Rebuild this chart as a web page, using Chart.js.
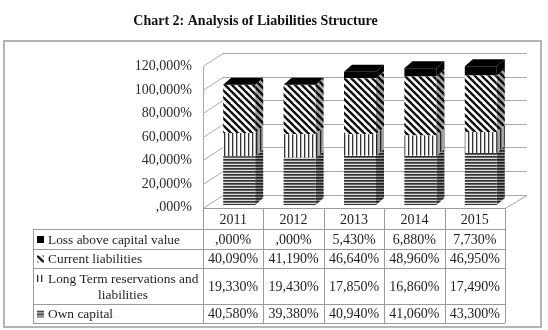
<!DOCTYPE html>
<html>
<head>
<meta charset="utf-8">
<script src="https://cdn.jsdelivr.net/npm/chart.js@4.4.1/dist/chart.umd.min.js"></script>
<style>
  html, body { margin: 0; padding: 0; background: #fff; }
  #wrap { width: 548px; height: 330px; }
</style>
</head>
<body>
<div id="wrap"><canvas id="chart" width="548" height="330"></canvas></div>
<script>
// ===============================
// Data
// ===============================
const years = ["2011", "2012", "2013", "2014", "2015"];
const ownCapital = [40.58, 39.38, 40.94, 41.06, 43.30];
const longTerm = [19.33, 19.43, 17.85, 16.86, 17.49];
const currentLiab = [40.09, 41.19, 46.64, 48.96, 46.95];
const lossAboveCapital = [0, 0, 5.43, 6.88, 7.73];
const seriesNames = ["Own capital", "Long Term reservations and liabilities", "Current liabilities", "Loss above capital value"];
const yTickValues = [0, 20, 40, 60, 80, 100, 120];
const yTickLabels = [",000%", "20,000%", "40,000%", "60,000%", "80,000%", "100,000%", "120,000%"];

const SERIF = "'Liberation Serif', 'Times New Roman', serif";

// ===============================
// Patterns
// ===============================
const makeTile = (size, draw, dark) => {
  const c = document.createElement("canvas");
  c.width = size; c.height = size;
  const g = c.getContext("2d");
  draw(g, size);
  if (dark) {
    g.fillStyle = "rgba(0,0,0," + dark + ")";
    g.fillRect(0, 0, size, size);
  }
  return c;
};

const drawHoriz = (g, s) => {
  g.fillStyle = "#dcdcdc"; g.fillRect(0, 0, s, s);
  g.fillStyle = "#333"; g.fillRect(0, 0, s, 1.7);
};
const drawVert = (g, s) => {
  g.fillStyle = "#fafafa"; g.fillRect(0, 0, s, s);
  g.fillStyle = "#333"; g.fillRect(0, 0, 1.3, s);
};
const drawDiag = (g, s) => {
  g.fillStyle = "#fff"; g.fillRect(0, 0, s, s);
  g.strokeStyle = "#111"; g.lineWidth = 2.4;
  [-s, 0, s].forEach(ox => {
    g.beginPath(); g.moveTo(ox - 1, -1); g.lineTo(ox + s + 1, s + 1); g.stroke();
  });
};
const drawSolid = (g, s) => { g.fillStyle = "#000"; g.fillRect(0, 0, s, s); };

const ctx = document.getElementById("chart").getContext("2d");
const tiles = [[3, drawHoriz], [4, drawVert], [7, drawDiag], [4, drawSolid]];
const frontFills = tiles.map(([s, d]) => ctx.createPattern(makeTile(s, d, 0), "repeat"));
const sideFills = tiles.map(([s, d]) => ctx.createPattern(makeTile(s, d, 0.35), "repeat"));
const keyTiles = tiles.map(([s, d]) => makeTile(s, d, 0));

const fmt = v => {
  let s = v.toFixed(3).replace(".", ",");
  if (s.startsWith("0,")) s = s.slice(1);
  return s + "%";
};

// ===============================
// 3D walls, floor and bar faces
// ===============================
const DX = 8, DY = 7;

const depth3d = {
  id: "depth3d",
  beforeDraw(chart) {
    const { ctx } = chart;
    ctx.save();
    ctx.strokeStyle = "#b4b4b4";
    ctx.lineWidth = 2;
    ctx.strokeRect(4, 41, 537, 286);
    ctx.restore();
  },
  beforeDatasetsDraw(chart) {
    const { ctx, chartArea: a, scales: { yWall } } = chart;
    const fx = a.left - 6, bx = a.left + 14, rx = a.right + 16, fr = a.right - 6;
    ctx.save();
    ctx.strokeStyle = "#a8a8a8";
    ctx.lineWidth = 1;
    yTickValues.forEach(v => {
      const p = Math.round(yWall.getPixelForValue(v)) + 0.5;
      ctx.beginPath();
      ctx.moveTo(fx, p);
      ctx.lineTo(bx, p - 13);
      ctx.lineTo(rx, p - 13);
      ctx.stroke();
    });
    const p0 = Math.round(yWall.getPixelForValue(0)) + 0.5;
    ctx.beginPath();
    ctx.moveTo(fx, p0);
    ctx.lineTo(fr, p0);
    ctx.lineTo(rx, p0 - 13);
    ctx.stroke();
    ctx.beginPath();
    ctx.moveTo(fx + 0.5, Math.round(yWall.getPixelForValue(120)) + 0.5);
    ctx.lineTo(fx + 0.5, p0);
    ctx.stroke();
    ctx.restore();
  },
  afterDatasetsDraw(chart) {
    const { ctx } = chart;
    const n = chart.data.datasets.length;
    ctx.save();
    for (let d = 0; d < n; d++) {
      chart.getDatasetMeta(d).data.forEach(bar => {
        const { x, y, base, width } = bar.getProps(["x", "y", "base", "width"], true);
        const r = x + width / 2;
        if (base - y <= 0) return;
        ctx.fillStyle = sideFills[d];
        ctx.beginPath();
        ctx.moveTo(r, y);
        ctx.lineTo(r + DX, y - DY);
        ctx.lineTo(r + DX, base - DY);
        ctx.lineTo(r, base);
        ctx.closePath();
        ctx.fill();
      });
    }
    chart.getDatasetMeta(n - 1).data.forEach(bar => {
      const { x, y, width } = bar.getProps(["x", "y", "width"], true);
      const l = x - width / 2, r = x + width / 2;
      ctx.fillStyle = "#000";
      ctx.beginPath();
      ctx.moveTo(l, y);
      ctx.lineTo(l + DX, y - DY);
      ctx.lineTo(r + DX, y - DY);
      ctx.lineTo(r, y);
      ctx.closePath();
      ctx.fill();
    });
    ctx.restore();
  },
  // ===============================
  // Data table under the chart
  // ===============================
  afterDraw(chart) {
    const { ctx, chartArea: a, scales: { x } } = chart;
    const colW = a.width / years.length;
    const left0 = a.left - 6;
    const labelL = 33;
    const rowsY = [208, 229, 249, 268, 304, 323];
    const tableRows = [
      { idx: 3, vals: lossAboveCapital, lines: ["Loss above capital value"] },
      { idx: 2, vals: currentLiab, lines: ["Current liabilities"] },
      { idx: 1, vals: longTerm, lines: ["Long Term reservations and", "liabilities"] },
      { idx: 0, vals: ownCapital, lines: ["Own capital"] }
    ];
    const right = left0 + colW * years.length;

    ctx.save();
    ctx.strokeStyle = "#9a9a9a";
    ctx.lineWidth = 1;
    rowsY.forEach((ry, i) => {
      ctx.beginPath();
      ctx.moveTo(i === 0 ? left0 : labelL, ry + 0.5);
      ctx.lineTo(right, ry + 0.5);
      ctx.stroke();
    });
    ctx.beginPath();
    ctx.moveTo(labelL + 0.5, rowsY[1]); ctx.lineTo(labelL + 0.5, rowsY[5]);
    for (let i = 0; i <= years.length; i++) {
      const cx = Math.round(left0 + colW * i) + 0.5;
      ctx.moveTo(cx, rowsY[0]); ctx.lineTo(cx, rowsY[5]);
    }
    ctx.stroke();

    ctx.fillStyle = "#1e1e1e";
    ctx.font = "14px " + SERIF;
    ctx.textBaseline = "middle";
    ctx.textAlign = "center";
    years.forEach((yr, i) => {
      ctx.fillText(yr, x.getPixelForValue(i) - 6, 220);
    });

    tableRows.forEach((row, r) => {
      const top = rowsY[r + 1], bot = rowsY[r + 2];
      const mid = (top + bot) / 2 + 1;
      const lineYs = row.lines.length === 1 ? [mid] : [mid - 8, mid + 8];
      ctx.save();
      ctx.fillStyle = ctx.createPattern(keyTiles[row.idx], "repeat");
      ctx.translate(37, lineYs[0] - 4);
      ctx.fillRect(0, 0, 7, 7);
      ctx.restore();
      ctx.fillStyle = "#1e1e1e";
      ctx.font = "13.4px " + SERIF;
      ctx.textAlign = "left";
      ctx.fillText(row.lines[0], 48, lineYs[0]);
      if (row.lines[1]) {
        ctx.textAlign = "center";
        ctx.fillText(row.lines[1], 123, lineYs[1]);
      }
      ctx.font = "14px " + SERIF;
      ctx.textAlign = "center";
      row.vals.forEach((v, i) => {
        ctx.fillText(fmt(v), x.getPixelForValue(i) - 6, mid);
      });
    });
    ctx.restore();
  }
};

// ===============================
// Chart
// ===============================
const series = [ownCapital, longTerm, currentLiab, lossAboveCapital];

new Chart(ctx, {
  type: "bar",
  data: {
    labels: years,
    datasets: series.map((vals, i) => ({
      label: seriesNames[i],
      data: vals,
      backgroundColor: frontFills[i],
      borderWidth: 0,
      barPercentage: 0.53,
      categoryPercentage: 1
    }))
  },
  options: {
    responsive: false,
    animation: false,
    layout: { padding: { left: 0, right: 37, bottom: 125 } },
    plugins: {
      legend: { display: false },
      tooltip: { enabled: false },
      title: {
        display: true,
        text: "Chart 2: Analysis of Liabilities Structure",
        color: "#111",
        font: { family: SERIF, size: 14, weight: "bold" },
        padding: { top: 13, bottom: 31 }
      }
    },
    scales: {
      x: { stacked: true, display: false },
      // bars sit a little behind the front edge of the wall
      y: { stacked: true, min: 0, max: 120, display: false },
      // front edge of the 3D wall: carries the tick labels
      yWall: {
        position: "left",
        min: 2.128,
        max: 124.68,
        border: { display: false },
        grid: { display: false, drawTicks: false },
        afterBuildTicks: s => { s.ticks = yTickValues.map(v => ({ value: v })); },
        ticks: {
          padding: 17,
          color: "#2a2a2a",
          font: { family: SERIF, size: 14 },
          callback: (v, i) => yTickLabels[i]
        },
        afterFit: s => { s.width = 209; }
      }
    }
  },
  plugins: [depth3d]
});
</script>
</body>
</html>
